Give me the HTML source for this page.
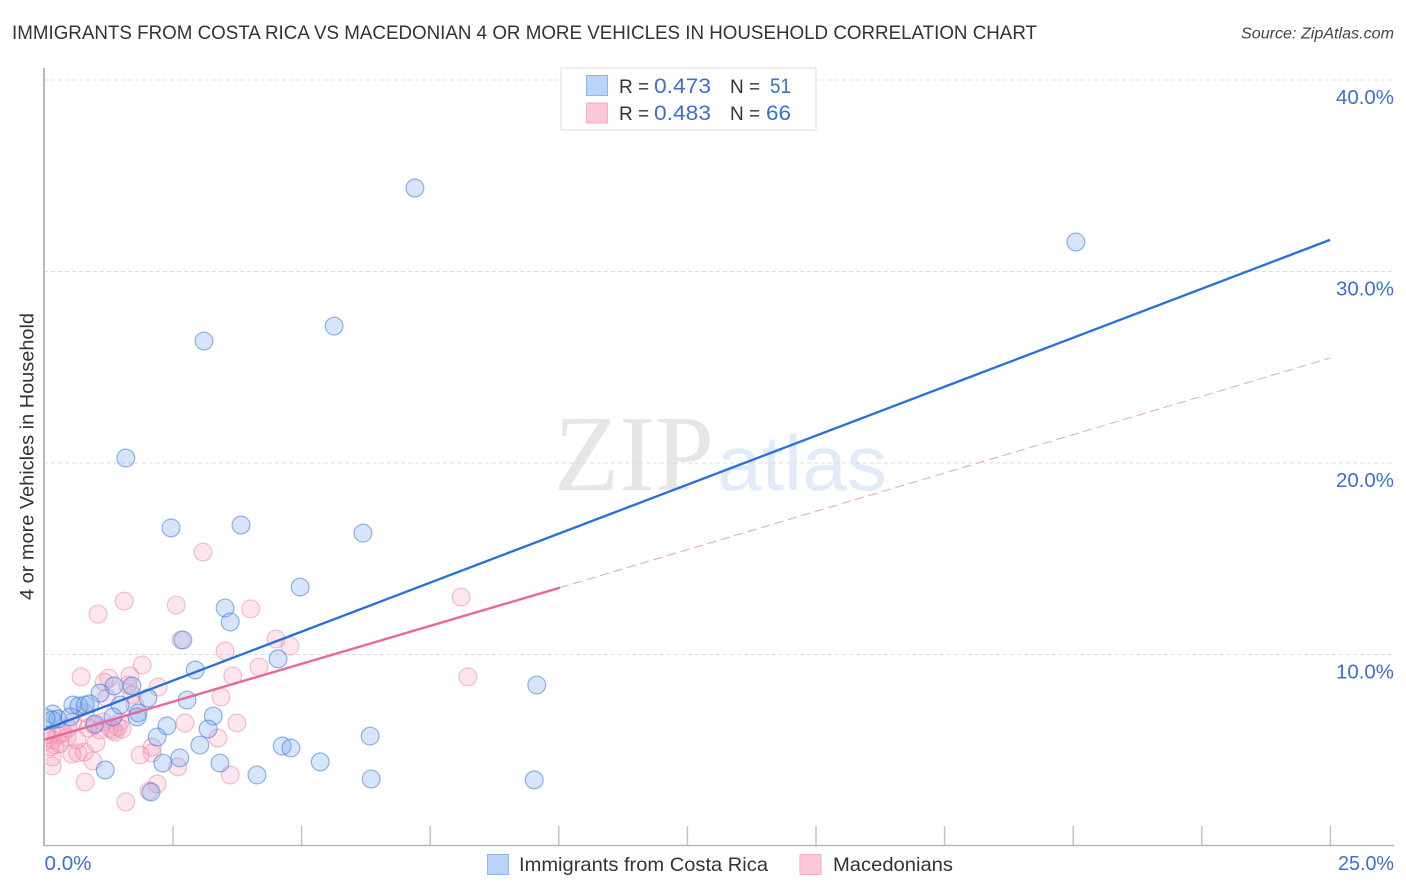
<!DOCTYPE html>
<html>
<head>
<meta charset="utf-8">
<style>
html,body{margin:0;padding:0;background:#fff;}
svg{display:block;font-family:"Liberation Sans",sans-serif;}
</style>
</head>
<body>
<svg id="chart" width="1406" height="892" viewBox="0 0 1406 892" xmlns="http://www.w3.org/2000/svg">
  <defs>
    <clipPath id="plot-clip"><rect x="45.5" y="68" width="1349" height="777"/></clipPath>
  </defs>
  <text x="12" y="39" font-size="19" fill="#333" textLength="1025" lengthAdjust="spacingAndGlyphs">IMMIGRANTS FROM COSTA RICA VS MACEDONIAN 4 OR MORE VEHICLES IN HOUSEHOLD CORRELATION CHART</text>
  <text x="1394" y="38.5" font-size="15.5" font-style="italic" fill="#444" text-anchor="end" textLength="153" lengthAdjust="spacingAndGlyphs">Source: ZipAtlas.com</text>

  <g>
    <text x="554" y="490" font-family="'Liberation Serif',serif" font-size="108" fill="#e6e6e6" textLength="160" lengthAdjust="spacingAndGlyphs">ZIP</text>
    <text x="717" y="490" font-size="78" fill="#e2ebf9" textLength="170" lengthAdjust="spacingAndGlyphs">atlas</text>
  </g>

  <g id="grid"></g>
  <g id="axes"></g>
  <g id="points" clip-path="url(#plot-clip)"></g>
  <g id="lines"></g>
  <g id="labels"></g>

  <text x="0" y="0" font-size="19" fill="#333" text-anchor="middle" textLength="287" lengthAdjust="spacingAndGlyphs" transform="translate(33.5,456.5) rotate(-90)">4 or more Vehicles in Household</text>

  <g>
    <rect x="561" y="68" width="255" height="62" fill="#fff" stroke="#ddd" stroke-width="1"/>
    <rect x="586.5" y="75.5" width="21" height="20" fill="#b9d4f8" stroke="#8fb6e8" stroke-width="1"/>
    <rect x="586.5" y="103" width="21" height="20" fill="#fcc8d8" stroke="#f3adc4" stroke-width="1"/>
    <text x="619" y="93" font-size="19" fill="#333">R =</text>
    <text x="654" y="93" font-size="21" fill="#3b6fd0" textLength="57" lengthAdjust="spacingAndGlyphs">0.473</text>
    <text x="730" y="93" font-size="19" fill="#333">N =</text>
    <text x="770" y="93" font-size="21" fill="#3b6fd0" textLength="21" lengthAdjust="spacingAndGlyphs">51</text>
    <text x="619" y="120" font-size="19" fill="#333">R =</text>
    <text x="654" y="120" font-size="21" fill="#3b6fd0" textLength="57" lengthAdjust="spacingAndGlyphs">0.483</text>
    <text x="730" y="120" font-size="19" fill="#333">N =</text>
    <text x="766" y="120" font-size="21" fill="#3b6fd0" textLength="25" lengthAdjust="spacingAndGlyphs">66</text>
  </g>

  <g>
    <rect x="487.5" y="854.5" width="21" height="20" fill="#b9d4f8" stroke="#8fb6e8" stroke-width="1"/>
    <text x="519" y="871" font-size="19.5" fill="#333" textLength="249" lengthAdjust="spacingAndGlyphs">Immigrants from Costa Rica</text>
    <rect x="800" y="854.5" width="21" height="20" fill="#fcc8d8" stroke="#f3adc4" stroke-width="1"/>
    <text x="833" y="871" font-size="19.5" fill="#333" textLength="120" lengthAdjust="spacingAndGlyphs">Macedonians</text>
  </g>
</svg>
<script>
var xTicks = [2.5, 5, 7.5, 10, 12.5, 15, 17.5, 20, 22.5, 25];
var yTicks = [10, 20, 30, 40];
var yTickLabels = ["10.0%", "20.0%", "30.0%", "40.0%"];
var xEndLabels = ["0.0%", "25.0%"];

var blueX = [7.21,20.06,5.64,3.11,1.59,3.83,2.47,6.20,4.98,3.52,3.62,2.70,4.55,2.94,9.58,1.36,1.71,1.09,2.02,2.78,0.56,0.68,0.80,0.89,1.48,0.17,0.27,1.83,1.81,1.34,0.51,3.29,0.16,0.04,0.99,2.39,3.19,2.20,6.34,3.03,4.63,4.80,2.64,2.31,3.42,5.37,1.19,4.14,6.36,9.53,2.08];
var blueY = [34.36,31.54,27.15,26.37,20.26,16.76,16.61,16.34,13.52,12.43,11.70,10.76,9.77,9.19,8.41,8.36,8.36,7.99,7.73,7.62,7.36,7.31,7.36,7.42,7.36,6.89,6.63,6.95,6.74,6.74,6.74,6.79,6.58,6.68,6.37,6.27,6.11,5.69,5.74,5.27,5.22,5.12,4.60,4.33,4.33,4.39,3.97,3.71,3.50,3.45,2.82];

var pinkX = [3.09,1.56,1.05,2.57,4.02,8.11,4.51,2.66,4.78,3.52,1.91,4.18,0.72,1.26,1.17,1.67,1.63,3.67,8.24,2.22,1.71,3.44,1.22,0.80,2.74,3.75,1.77,1.48,3.38,1.01,2.10,2.10,1.87,2.60,3.62,2.20,2.04,1.59,0.80,0.95,0.54,0.66,0.78,0.16,0.16,1.38,1.28,1.44,1.34,1.52,0.97,0.86,0.37,0.27,0.17,0.21,0.45,0.64,0.08,0.12,0.56,0.31,0.47,0.04,1.15,1.09];
var pinkY = [15.35,12.79,12.11,12.58,12.38,13.00,10.81,10.76,10.44,10.18,9.45,9.35,8.83,8.77,8.56,8.88,8.41,8.88,8.83,8.30,7.89,7.78,7.73,6.95,6.42,6.42,7.36,6.48,5.64,5.38,5.17,4.86,4.75,4.13,3.71,3.24,2.87,2.30,3.34,4.44,4.80,4.86,4.91,4.18,4.65,5.95,6.16,6.21,6.06,6.11,6.32,6.16,5.90,5.80,5.54,5.27,5.69,5.54,5.64,5.17,6.48,5.33,6.16,5.80,6.48,6.06];

var blueTrendX = [0, 25];
var blueTrendY = [6.07, 31.65];
var pinkTrendX = [0, 10.03];
var pinkTrendY = [5.55, 13.49];
var pinkDashX = [10.03, 25];
var pinkDashY = [13.49, 25.48];

var SVG_NS = "http://www.w3.org/2000/svg";
function xScale(v) { return 44 + v * 51.44; }
function yScale(v) { return 846 - v * 19.15; }
function make(tag, parent, attrs) {
  var el = document.createElementNS(SVG_NS, tag);
  for (var k in attrs) { el.setAttribute(k, attrs[k]); }
  parent.appendChild(el);
  return el;
}

var grid = document.getElementById("grid");
var axes = document.getElementById("axes");
var points = document.getElementById("points");
var lines = document.getElementById("lines");
var labels = document.getElementById("labels");

yTicks.forEach(function (t, i) {
  var g = make("line", grid, {x1: 44, x2: 1394, y1: yScale(t), y2: yScale(t), stroke: "#dcdcdc", "stroke-width": 1, "stroke-dasharray": "4 3"});
  
  
  var l = make("text", labels, {x: 1394, y: yScale(t) + 24, "font-size": 20.5, fill: "#3b6fd0", "text-anchor": "end", textLength: 58, lengthAdjust: "spacingAndGlyphs"});
  
  
  l.textContent = yTickLabels[i];
});

var yAxis = make("line", axes, {x1: 44, x2: 44, y1: 68, y2: 846, stroke: "#b8b8b8", "stroke-width": 2});


var xAxis = make("line", axes, {x1: 43, x2: 1394, y1: 845.5, y2: 845.5, stroke: "#b8b8b8", "stroke-width": 1.5});



xTicks.forEach(function (t) {
  var tick = make("line", axes, {x1: xScale(t) + 0.4, x2: xScale(t) + 0.4, y1: 826, y2: 845, stroke: "#c4c4c4", "stroke-width": 1.5});
  
  
});

var x0 = make("text", labels, {x: 44.5, y: 870, "font-size": 20.5, fill: "#3b6fd0", textLength: 47, lengthAdjust: "spacingAndGlyphs"});


x0.textContent = xEndLabels[0];
var x1 = make("text", labels, {x: 1394, y: 870, "font-size": 20.5, fill: "#3b6fd0", "text-anchor": "end", textLength: 56, lengthAdjust: "spacingAndGlyphs"});


x1.textContent = xEndLabels[1];

pinkX.forEach(function (v, i) {
  var c = make("circle", points, {cx: xScale(v), cy: yScale(pinkY[i]), r: 8.9, fill: "rgba(246,160,188,0.26)", stroke: "rgba(235,130,165,0.5)", "stroke-width": 1.2});
  
  
});
blueX.forEach(function (v, i) {
  var c = make("circle", points, {cx: xScale(v), cy: yScale(blueY[i]), r: 8.9, fill: "rgba(120,170,240,0.3)", stroke: "rgba(60,120,215,0.55)", "stroke-width": 1.2});
  
  
});

var pinkDash = make("line", lines, {x1: xScale(pinkDashX[0]), y1: yScale(pinkDashY[0]), x2: xScale(pinkDashX[1]), y2: yScale(pinkDashY[1]), stroke: "#f0a0bd", "stroke-width": 1, "stroke-dasharray": "9 5"});


var pinkLine = make("line", lines, {x1: xScale(pinkTrendX[0]), y1: yScale(pinkTrendY[0]), x2: xScale(pinkTrendX[1]), y2: yScale(pinkTrendY[1]), stroke: "#e8689a", "stroke-width": 2.4});


var blueLine = make("line", lines, {x1: xScale(blueTrendX[0]), y1: yScale(blueTrendY[0]), x2: xScale(blueTrendX[1]), y2: yScale(blueTrendY[1]), stroke: "#2a70d8", "stroke-width": 2.4});


</script>
</body>
</html>
